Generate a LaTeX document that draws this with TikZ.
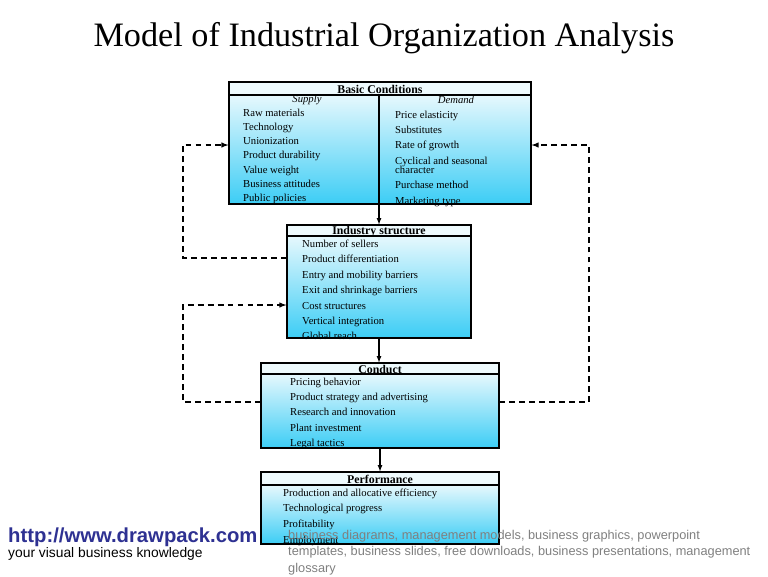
\documentclass[tikz,border=0pt]{standalone}
\usepackage{fontspec}
\setmainfont{Liberation Serif}
\newfontfamily\arialfont{Liberation Sans}
\usepackage{tikz}
\usetikzlibrary{arrows,backgrounds,calc,fit}
\definecolor{boxtop}{HTML}{E6F8FD}
\definecolor{boxbottom}{HTML}{3CCDF5}
\definecolor{headfill}{HTML}{EEFAFD}
\definecolor{linkblue}{HTML}{2E3192}
\definecolor{footgray}{HTML}{808080}

\begin{document}
\begin{tikzpicture}[x=0.03cm,y=-0.03cm,
  boxbody/.style={draw,line width=0.9pt,inner sep=0pt,top color=boxtop,bottom color=boxbottom},
  boxhead/.style={draw,line width=0.9pt,inner sep=0pt,fill=headfill},
  headtext/.style={inner sep=0pt,font=\fontsize{10.1}{11}\selectfont\bfseries},
  items/.style={anchor=north west,inner sep=0pt,align=left,font=\fontsize{9.1}{13.2}\selectfont},
  flow/.style={-latex,line width=0.9pt},
  feedback/.style={-latex,line width=1.1pt,dash pattern=on 5pt off 3.5pt}]
\useasboundingbox (0,0) rectangle (768,576);
\node[font=\fontsize{29.2}{32}\selectfont] (title) at (384,38) {Model of Industrial Organization Analysis};
% boxes
\node[boxbody,fit={(229,95) (531,204)}] (basic) {};
\node[boxhead,fit={(229,82) (531,95)}] (basichead) {};
\node[headtext] (basictext) at (380,89.5) {Basic Conditions};
\node[boxbody,fit={(287,236) (471,338)}] (ind) {};
\node[boxhead,fit={(287,225) (471,236)}] (indhead) {};
\node[headtext] (indtext) at (379,231.5) {Industry structure};
\node[boxbody,fit={(261,374) (499,448)}] (cond) {};
\node[boxhead,fit={(261,363) (499,374)}] (condhead) {};
\node[headtext] (condtext) at (380,369.5) {Conduct};
\node[boxbody,fit={(261,485) (499,544)}] (perf) {};
\node[boxhead,fit={(261,472) (499,485)}] (perfhead) {};
\node[headtext] (perftext) at (380,479.5) {Performance};
% lists
\node[font=\fontsize{9.1}{11}\selectfont\itshape] (supply) at (307,99.5) {Supply};
\node[font=\fontsize{9.1}{11}\selectfont\itshape] (demand) at (456,99.5) {Demand};
\node[items,font=\fontsize{9.1}{12.2}\selectfont] (supplylist) at (243,108.4) {Raw materials\\Technology\\Unionization\\Product durability\\Value weight\\Business attitudes\\Public policies};
\node[items] (demandlist) at (395,110.4) {Price elasticity\\Substitutes\\Rate of growth\\Cyclical and seasonal\\[-5.5pt]character\\Purchase method\\Marketing type};
\node[items] (indlist) at (302,239.4) {Number of sellers\\Product differentiation\\Entry and mobility barriers\\Exit and shrinkage barriers\\Cost structures\\Vertical integration\\Global reach};
\node[items] (condlist) at (290,377.4) {Pricing behavior\\Product strategy and advertising\\Research and innovation\\Plant investment\\Legal tactics};
\node[items,font=\fontsize{9.1}{13.4}\selectfont] (perflist) at (283,488.4) {Production and allocative efficiency\\Technological progress\\Profitability\\Employment};
% arrows
\draw[flow] (indhead.north |- basichead.south) -- (indhead.north);
\draw[flow] (ind.south) -- (ind.south |- condhead.north);
\draw[flow] (cond.south) -- (cond.south |- perfhead.north);
\coordinate (fbA) at (183,145);
\coordinate (fbB) at (183,258);
\coordinate (fbC) at (183,305);
\coordinate (fbD) at (183,402);
\coordinate (fbE) at (589,402);
\coordinate (fbF) at (589,145);
\draw[feedback] (ind.west |- fbB) -- (fbB) -- (fbA) -- (basic.west |- fbA);
\draw[feedback] (cond.west |- fbD) -- (fbD) -- (fbC) -- (ind.west |- fbC);
\draw[feedback] (cond.east |- fbE) -- (fbE) -- (fbF) -- (basic.east |- fbF);
% footer
\node[anchor=west,inner sep=0pt,text=linkblue,font=\arialfont\fontsize{17.3}{20}\selectfont\bfseries] (url) at (8,537) {http://www.drawpack.com};
\node[anchor=west,inner sep=0pt,font=\arialfont\fontsize{11.8}{14}\selectfont] (slogan) at (8,554) {your visual business knowledge};
\node[items,text=footgray,font=\arialfont\fontsize{10.9}{13.7}\selectfont] (tags) at (288,530.4) {business diagrams, management models, business graphics, powerpoint\\templates, business slides, free downloads, business presentations, management\\glossary};
\end{tikzpicture}
\end{document}
